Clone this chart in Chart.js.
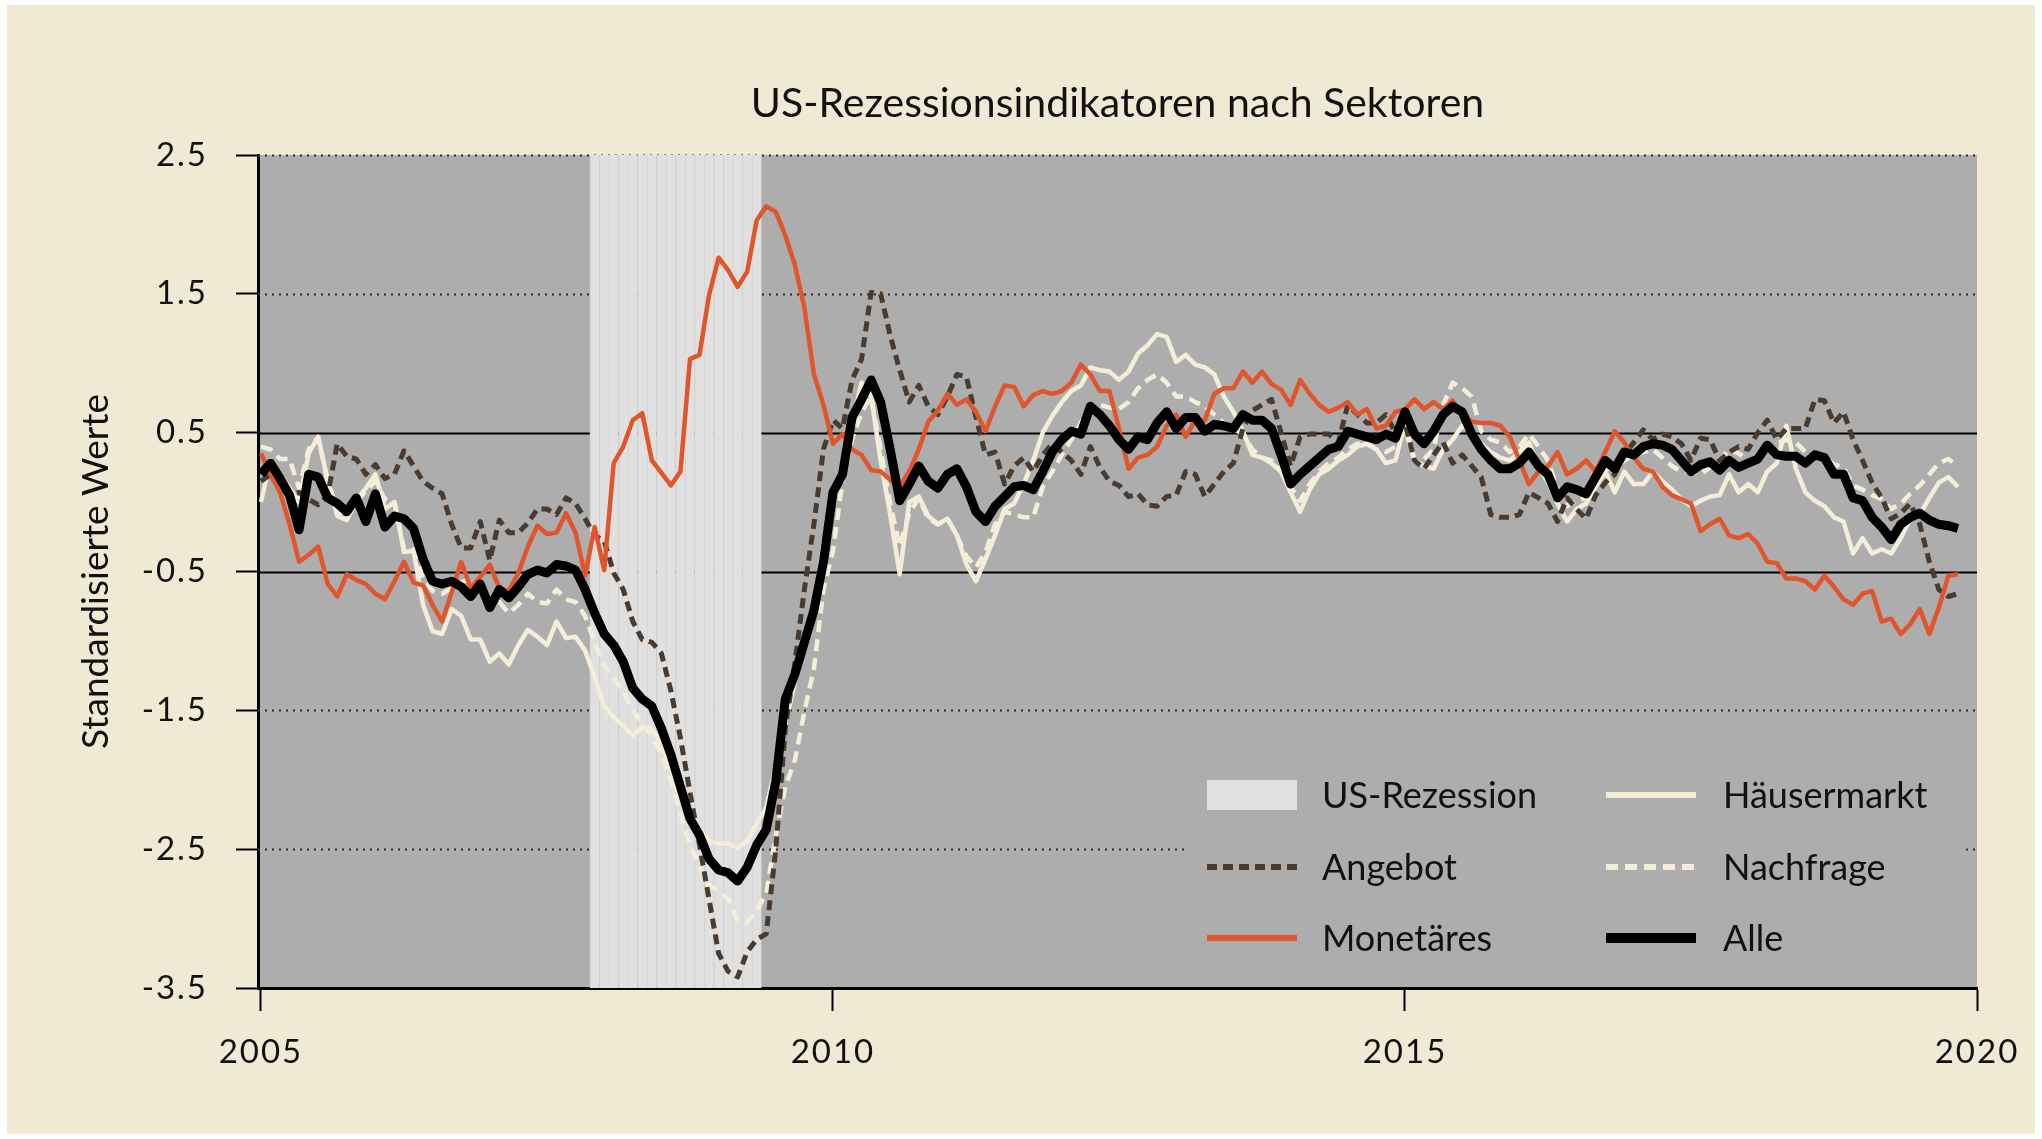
<!DOCTYPE html>
<html lang="de">
<head>
<meta charset="utf-8">
<title>US-Rezessionsindikatoren nach Sektoren</title>
<script src="https://cdn.jsdelivr.net/npm/chart.js@4.4.1/dist/chart.umd.min.js"></script>
<style>
  html, body { margin: 0; padding: 0; background: #fff; }
  canvas { display: block; }
</style>
</head>
<body>
<canvas id="chart" width="2042" height="1139"></canvas>
<script>
// Monatswerte, Index 0 = Januar 2005, letzter Wert November 2019
const startYear = 2005;

const alle = [
  0.2, 0.28, 0.17, 0.05, -0.2, 0.2, 0.18, 0.03, -0.01, -0.07, 0.03, -0.14,
  0.06, -0.18, -0.1, -0.12, -0.19, -0.41, -0.57, -0.59, -0.57, -0.61, -0.68, -0.59,
  -0.76, -0.63, -0.69, -0.61, -0.52, -0.49, -0.51, -0.45, -0.46, -0.49, -0.63, -0.8,
  -0.95, -1.03, -1.15, -1.34, -1.42, -1.47, -1.63, -1.82, -2.05, -2.28, -2.4, -2.57,
  -2.65, -2.67, -2.73, -2.63, -2.47, -2.36, -2.01, -1.42, -1.24, -1.01, -0.78, -0.43,
  0.07, 0.2, 0.61, 0.74, 0.88, 0.72, 0.38, 0.01, 0.13, 0.26, 0.15, 0.1,
  0.2, 0.24, 0.11, -0.07, -0.14, -0.03, 0.04, 0.11, 0.12, 0.09, 0.22, 0.36,
  0.45, 0.51, 0.49, 0.69, 0.63, 0.55, 0.45, 0.38, 0.47, 0.45, 0.57, 0.65,
  0.53, 0.61, 0.61, 0.51, 0.56, 0.55, 0.53, 0.63, 0.59, 0.59, 0.53, 0.34,
  0.13, 0.2, 0.26, 0.32, 0.38, 0.4, 0.51, 0.49, 0.47, 0.45, 0.49, 0.46,
  0.65, 0.49, 0.42, 0.51, 0.63, 0.69, 0.65, 0.49, 0.38, 0.3, 0.24, 0.24,
  0.28, 0.36, 0.26, 0.2, 0.03, 0.11, 0.09, 0.06, 0.18, 0.3, 0.24, 0.36,
  0.34, 0.4, 0.42, 0.41, 0.38, 0.3, 0.22, 0.27, 0.29, 0.23, 0.3, 0.25,
  0.28, 0.31, 0.41, 0.34, 0.33, 0.33, 0.28, 0.34, 0.32, 0.2, 0.2, 0.03,
  0.01, -0.11, -0.18, -0.27, -0.16, -0.11, -0.08, -0.13, -0.16, -0.17, -0.19
];

const angebot = [
  0.15, 0.2, 0.1, 0.05, 0.07, 0.02, -0.02, 0.05, 0.42, 0.33, 0.31, 0.2,
  0.27, 0.17, 0.2, 0.37, 0.26, 0.15, 0.1, 0.06, -0.16, -0.33, -0.33, -0.14,
  -0.42, -0.13, -0.22, -0.22, -0.15, -0.05, -0.05, -0.09, 0.03, -0.01, -0.12, -0.24,
  -0.28, -0.51, -0.63, -0.86, -0.99, -1.01, -1.09, -1.36, -1.7, -2.09, -2.47, -2.86,
  -3.25, -3.38, -3.42, -3.24, -3.15, -3.11, -2.5, -1.63, -1.16, -0.63, -0.16, 0.38,
  0.59, 0.53, 0.88, 1.03, 1.51, 1.5, 1.2, 0.95, 0.72, 0.84, 0.69, 0.63,
  0.76, 0.92, 0.9, 0.61, 0.34, 0.36, 0.13, 0.26, 0.32, 0.22, 0.34, 0.42,
  0.36, 0.3, 0.2, 0.4, 0.25, 0.15, 0.12, 0.04, 0.06, -0.02, -0.03, 0.04,
  0.05, 0.22, 0.2, 0.04, 0.13, 0.22, 0.28, 0.53, 0.66, 0.7, 0.74, 0.5,
  0.26, 0.47, 0.49, 0.49, 0.49, 0.43, 0.7, 0.63, 0.57, 0.57, 0.63, 0.5,
  0.57, 0.3, 0.24, 0.34, 0.43, 0.28, 0.34, 0.26, 0.18, -0.09, -0.11, -0.11,
  -0.09, 0.07, 0.03, -0.01, -0.14, 0.03, -0.05, -0.12, 0.05, 0.14, 0.2, 0.34,
  0.43, 0.52, 0.45, 0.49, 0.47, 0.42, 0.3, 0.46, 0.45, 0.3, 0.36, 0.4,
  0.38, 0.5, 0.59, 0.45, 0.53, 0.53, 0.53, 0.74, 0.73, 0.57, 0.65, 0.45,
  0.3, 0.14, 0.03, -0.12, -0.08, -0.01, -0.16, -0.43, -0.63, -0.68, -0.66
];

const monetaeres = [
  0.35, 0.2, 0.07, -0.16, -0.43, -0.38, -0.32, -0.59, -0.68, -0.52, -0.56, -0.59,
  -0.66, -0.7, -0.57, -0.43, -0.58, -0.6, -0.74, -0.86, -0.65, -0.43, -0.62, -0.54,
  -0.45, -0.62, -0.64, -0.51, -0.32, -0.17, -0.23, -0.22, -0.08, -0.22, -0.53, -0.18,
  -0.49, 0.28, 0.4, 0.59, 0.64, 0.3, 0.21, 0.12, 0.22, 1.03, 1.06, 1.49,
  1.76, 1.67, 1.55, 1.66, 2.03, 2.13, 2.09, 1.92, 1.71, 1.4, 0.92, 0.7,
  0.42, 0.49, 0.38, 0.34, 0.23, 0.22, 0.16, 0.11, 0.22, 0.38, 0.58, 0.66,
  0.78, 0.7, 0.74, 0.65, 0.51, 0.69, 0.84, 0.83, 0.69, 0.77, 0.8, 0.78,
  0.8, 0.86, 0.99, 0.92, 0.8, 0.8, 0.53, 0.24, 0.32, 0.34, 0.4, 0.55,
  0.63, 0.47, 0.59, 0.59, 0.78, 0.82, 0.82, 0.94, 0.86, 0.94, 0.85, 0.81,
  0.7, 0.88, 0.78, 0.7, 0.65, 0.68, 0.72, 0.63, 0.67, 0.53, 0.55, 0.65,
  0.67, 0.74, 0.67, 0.72, 0.67, 0.73, 0.63, 0.58, 0.57, 0.57, 0.55, 0.47,
  0.3, 0.13, 0.22, 0.26, 0.36, 0.2, 0.24, 0.3, 0.22, 0.36, 0.51, 0.43,
  0.32, 0.24, 0.22, 0.11, 0.05, 0.02, -0.01, -0.21, -0.16, -0.12, -0.24, -0.26,
  -0.23, -0.3, -0.43, -0.44, -0.55, -0.55, -0.57, -0.63, -0.53, -0.61, -0.7, -0.74,
  -0.66, -0.64, -0.86, -0.84, -0.95, -0.88, -0.77, -0.95, -0.76, -0.53, -0.52
];

const haeusermarkt = [
  0.0, 0.3, 0.2, 0.1, 0.0, 0.35, 0.47, 0.15, -0.1, -0.13, 0.01, 0.1,
  0.2, -0.05, 0.0, -0.36, -0.35, -0.74, -0.93, -0.95, -0.77, -0.82, -0.99, -0.99,
  -1.15, -1.09, -1.17, -1.03, -0.92, -0.97, -1.03, -0.86, -0.98, -0.97, -1.07, -1.26,
  -1.47, -1.55, -1.61, -1.68, -1.62, -1.63, -1.74, -1.93, -2.15, -2.25, -2.36, -2.44,
  -2.46, -2.46, -2.49, -2.44, -2.32, -2.2, -1.9, -1.6, -1.3, -1.0, -0.75, -0.3,
  0.0, 0.22, 0.57, 0.86, 0.76, 0.3, -0.09, -0.52, 0.0, 0.04, -0.1, -0.16,
  -0.12, -0.24, -0.45, -0.57, -0.41, -0.24, -0.05, -0.01, 0.13, 0.3, 0.5, 0.62,
  0.72, 0.8, 0.84, 0.97, 0.95, 0.94, 0.88, 0.94, 1.07, 1.13, 1.21, 1.19,
  1.01, 1.06, 0.99, 0.97, 0.92, 0.76, 0.65, 0.51, 0.34, 0.32, 0.28, 0.22,
  0.07, -0.07, 0.09, 0.2, 0.24, 0.3, 0.34, 0.4, 0.42, 0.38, 0.28, 0.3,
  0.57, 0.3, 0.26, 0.24, 0.38, 0.45, 0.55, 0.5, 0.42, 0.36, 0.32, 0.3,
  0.36, 0.43, 0.26, 0.14, -0.01, -0.14, -0.05, -0.01, 0.11, 0.22, 0.07, 0.22,
  0.13, 0.13, 0.22, 0.15, 0.09, 0.02, -0.03, 0.01, 0.04, 0.05, 0.2, 0.07,
  0.13, 0.07, 0.22, 0.28, 0.55, 0.24, 0.07, 0.01, -0.03, -0.11, -0.14, -0.37,
  -0.26, -0.37, -0.34, -0.37, -0.26, -0.12, -0.09, 0.03, 0.14, 0.18, 0.11
];

const nachfrage = [
  0.4, 0.38, 0.31, 0.31, 0.1, 0.38, 0.47, 0.15, -0.05, -0.12, 0.0, 0.08,
  0.15, 0.02, 0.0, -0.34, -0.34, -0.55, -0.64, -0.66, -0.62, -0.58, -0.55, -0.68,
  -0.74, -0.72, -0.8, -0.74, -0.66, -0.72, -0.73, -0.63, -0.7, -0.72, -0.82, -1.01,
  -1.18, -1.27, -1.36, -1.5, -1.6, -1.68, -1.82, -2.01, -2.24, -2.47, -2.63, -2.76,
  -2.8, -2.86, -3.01, -3.03, -2.94, -2.82, -2.4, -2.05, -1.86, -1.51, -1.2, -0.63,
  -0.35, 0.15, 0.45, 0.65, 0.76, 0.38, -0.01, -0.32, -0.08, 0.03, -0.12, -0.16,
  -0.12, -0.24, -0.39, -0.47, -0.36, -0.16, -0.07, -0.09, -0.11, -0.11, 0.11, 0.22,
  0.34, 0.45, 0.57, 0.69, 0.7, 0.68, 0.67, 0.72, 0.82, 0.88, 0.92, 0.86,
  0.76, 0.76, 0.72, 0.69, 0.63, 0.57, 0.53, 0.49, 0.38, 0.32, 0.3, 0.22,
  0.11, 0.01, 0.13, 0.22, 0.28, 0.32, 0.38, 0.42, 0.42, 0.38, 0.36, 0.4,
  0.53, 0.3, 0.31, 0.38, 0.7, 0.86, 0.82, 0.76, 0.51, 0.45, 0.43, 0.36,
  0.4, 0.49, 0.4, 0.3, 0.09, -0.03, 0.01, 0.03, 0.15, 0.24, 0.24, 0.3,
  0.34, 0.36, 0.38, 0.32, 0.26, 0.22, 0.22, 0.2, 0.25, 0.3, 0.38, 0.35,
  0.3, 0.3, 0.38, 0.42, 0.45, 0.43, 0.36, 0.34, 0.32, 0.27, 0.25, 0.12,
  0.09, 0.05, 0.02, -0.05, -0.01, 0.06, 0.12, 0.2, 0.28, 0.31, 0.26
];

// US-Rezession Dez 2007 bis Mai 2009 (Monatsindex)
const rezessionMonate = [35, 36, 37, 38, 39, 40, 41, 42, 43, 44, 45, 46, 47, 48, 49, 50, 51, 52];

const yMin = -3.5;
const yMax = 2.5;
const yTicks = [-3.5, -2.5, -1.5, -0.5, 0.5, 1.5, 2.5];
const solidLines = [0.5, -0.5];
const xTicks = [2005, 2010, 2015, 2020];

const fontFamily = "Lato, 'Noto Sans', sans-serif";
const textColor = '#111111';

const toPoints = arr => arr.map((v, i) => ({ x: startYear + i / 12, y: v }));

// Hintergrund, Gitterlinien, Titel und Legende
const decor = {
    id: 'decor',
    beforeDraw(chart) {
        const { ctx, chartArea: a } = chart;
        ctx.save();
        ctx.fillStyle = '#ffffff';
        ctx.fillRect(0, 0, chart.width, chart.height);
        ctx.fillStyle = '#f0e9d3';
        ctx.fillRect(7, 5, chart.width - 14, chart.height - 10);
        ctx.fillStyle = '#adadad';
        ctx.fillRect(a.left, a.top, a.right - a.left, a.bottom - a.top);
        ctx.restore();
        ctx.letterSpacing = '2px';
    },
    beforeDatasetsDraw(chart) {
        const { ctx, chartArea: a, scales: { y } } = chart;
        ctx.save();
        yTicks.forEach(v => {
            if (v === yMin) return;
            const py = Math.round(y.getPixelForValue(v)) + 0.5;
            ctx.beginPath();
            if (solidLines.includes(v)) {
                ctx.setLineDash([]);
                ctx.lineWidth = 2;
                ctx.strokeStyle = '#000';
            } else {
                ctx.setLineDash([2, 5]);
                ctx.lineWidth = 2;
                ctx.strokeStyle = '#2a2a2a';
            }
            ctx.moveTo(a.left, py);
            ctx.lineTo(a.right, py);
            ctx.stroke();
        });
        ctx.restore();
    },
    afterDraw(chart) {
        const { ctx, chartArea: a } = chart;
        ctx.save();
        ctx.letterSpacing = '0px';
        ctx.fillStyle = textColor;
        ctx.textAlign = 'center';
        ctx.textBaseline = 'middle';

        // Titel
        ctx.font = '41px ' + fontFamily;
        ctx.fillText('US-Rezessionsindikatoren nach Sektoren', (a.left + a.right) / 2, 104);

        // Y-Achsentitel
        ctx.save();
        ctx.translate(96, (a.top + a.bottom) / 2);
        ctx.rotate(-Math.PI / 2);
        ctx.font = '37px ' + fontFamily;
        ctx.fillText('Standardisierte Werte', 0, 0);
        ctx.restore();

        // Legende
        const legendOrder = ['US-Rezession', 'Angebot', 'Monetäres', 'Häusermarkt', 'Nachfrage', 'Alle'];
        const swatchX = [1207, 1606];
        const labelX = [1322, 1723];
        const rowY = [795, 867, 938];
        const swatchW = 90;

        ctx.fillStyle = '#adadad';
        ctx.fillRect(1187, 758, 776, 218);

        ctx.font = '36px ' + fontFamily;
        ctx.textAlign = 'left';
        legendOrder.forEach((name, k) => {
            const ds = chart.data.datasets.find(d => d.label === name);
            const col = Math.floor(k / 3);
            const cy = rowY[k % 3];
            const sx = swatchX[col];
            if (ds.type === 'bar') {
                ctx.fillStyle = ds.backgroundColor;
                ctx.fillRect(sx, cy - 15, swatchW, 30);
            } else {
                ctx.beginPath();
                ctx.setLineDash(ds.borderDash || []);
                ctx.lineWidth = name === 'Alle' ? 10 : 6;
                ctx.strokeStyle = ds.borderColor;
                ctx.lineCap = 'butt';
                ctx.moveTo(sx, cy);
                ctx.lineTo(sx + swatchW, cy);
                ctx.stroke();
                ctx.setLineDash([]);
            }
            ctx.fillStyle = textColor;
            ctx.fillText(name, labelX[col], cy + 1);
        });
        ctx.restore();
    }
};

new Chart(document.getElementById('chart'), {
    type: 'line',
    data: {
        datasets: [
            {
                label: 'Alle',
                data: toPoints(alle),
                borderColor: '#000000',
                borderWidth: 9,
                order: 0
            },
            {
                label: 'Monetäres',
                data: toPoints(monetaeres),
                borderColor: '#e0552b',
                borderWidth: 4.5,
                order: 1
            },
            {
                label: 'Angebot',
                data: toPoints(angebot),
                borderColor: '#4a3b31',
                borderWidth: 5,
                borderDash: [10, 6],
                order: 2
            },
            {
                label: 'Nachfrage',
                data: toPoints(nachfrage),
                borderColor: '#f4eed8',
                borderWidth: 4.5,
                borderDash: [12, 7],
                order: 3
            },
            {
                label: 'Häusermarkt',
                data: toPoints(haeusermarkt),
                borderColor: '#f4eed8',
                borderWidth: 4.5,
                order: 4
            },
            {
                type: 'bar',
                label: 'US-Rezession',
                data: rezessionMonate.map(m => ({ x: startYear + m / 12, y: [yMin, yMax] })),
                backgroundColor: '#e0e0e0',
                borderColor: '#d3d3d3',
                borderWidth: { left: 1, right: 0, top: 0, bottom: 0 },
                borderSkipped: false,
                barPercentage: 1,
                categoryPercentage: 1,
                order: 10
            }
        ]
    },
    options: {
        responsive: false,
        devicePixelRatio: 1,
        animation: false,
        layout: {
            padding: { left: 0, right: 65, top: 155, bottom: 0 }
        },
        elements: {
            point: { radius: 0, hoverRadius: 0 },
            line: { tension: 0, fill: false, borderJoinStyle: 'round', borderCapStyle: 'butt' }
        },
        plugins: {
            legend: { display: false },
            tooltip: { enabled: false },
            title: { display: false }
        },
        scales: {
            x: {
                type: 'linear',
                min: 2004.974,
                max: 2020,
                offset: false,
                afterBuildTicks: s => { s.ticks = xTicks.map(v => ({ value: v })); },
                afterFit: s => { s.height = 151; },
                grid: {
                    offset: false,
                    drawOnChartArea: false,
                    drawTicks: true,
                    tickLength: 23,
                    tickColor: '#000',
                    tickWidth: 2
                },
                border: { display: true, color: '#000', width: 3 },
                ticks: {
                    autoSkip: false,
                    maxRotation: 0,
                    padding: 22,
                    color: textColor,
                    font: { family: fontFamily, size: 33 },
                    callback: v => String(v)
                }
            },
            y: {
                type: 'linear',
                min: yMin,
                max: yMax,
                afterBuildTicks: s => { s.ticks = yTicks.map(v => ({ value: v })); },
                afterFit: s => { s.width = 258; },
                grid: {
                    offset: false,
                    drawOnChartArea: false,
                    drawTicks: true,
                    tickLength: 22,
                    tickColor: '#000',
                    tickWidth: 2
                },
                border: { display: true, color: '#000', width: 3 },
                ticks: {
                    padding: 28,
                    color: textColor,
                    font: { family: fontFamily, size: 33 },
                    callback: v => v.toFixed(1)
                }
            }
        }
    },
    plugins: [decor]
});
</script>
</body>
</html>
